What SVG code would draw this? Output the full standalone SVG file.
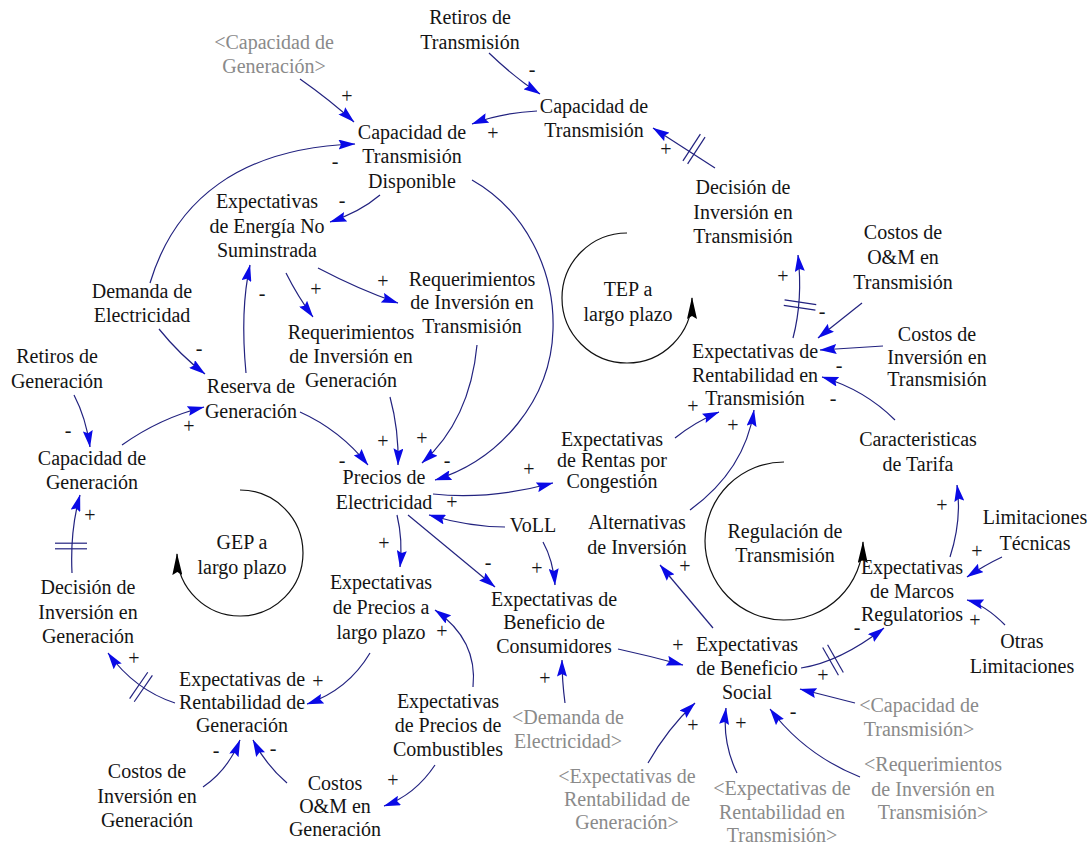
<svg xmlns="http://www.w3.org/2000/svg" width="1088" height="846" viewBox="0 0 1088 846">
<defs>
<style>
text{font-family:'Liberation Serif','Times New Roman',Times,'DejaVu Serif',serif;font-size:20px;fill:#141414;text-anchor:middle}
.g{fill:#8a8a8a}
.c{fill:none;stroke:#22227f;stroke-width:1.2;marker-end:url(#ab)}
.lp{fill:none;stroke:#111;stroke-width:1.2;marker-end:url(#lb)}
.dl line{stroke:#22227f;stroke-width:1.2}
</style>
<marker id="ab" viewBox="0 0 17 10" refX="16.5" refY="5" markerWidth="17" markerHeight="10" markerUnits="userSpaceOnUse" orient="auto">
<path d="M0,0 L17,5 L0,10 L2.5,5 z" fill="#0a0ae6"/>
</marker>
<marker id="lb" viewBox="0 0 22 10" refX="21" refY="5" markerWidth="22" markerHeight="10" markerUnits="userSpaceOnUse" orient="auto">
<path d="M0,0 L22,5 L0,10 L3,5 z" fill="#000"/>
</marker>
<g id="dm" class="dl"><line x1="-2.8" y1="-16" x2="-2.8" y2="16"/><line x1="2.8" y1="-16" x2="2.8" y2="16"/></g>
</defs>
<rect width="1088" height="846" fill="#fff"/>

<g id="connectors">
<path class="c" d="M300,79 Q330,100 354,122"/>
<path class="c" d="M150,283 C175,200 240,148 355,144"/>
<path class="c" d="M489,53 Q515,78 540,94"/>
<path class="c" d="M537,111 Q500,113 472,124"/>
<path class="c" d="M715,168 L653,128"/>
<path class="c" d="M380,195 Q360,212 330,222"/>
<path class="c" d="M472,180 C525,210 555,270 553,330 C551,400 500,460 435,480"/>
<path class="c" d="M318,268 Q360,290 398,303"/>
<path class="c" d="M286,273 Q298,297 313,317"/>
<path class="c" d="M246,373 Q240,310 250,265"/>
<path class="c" d="M159,329 Q180,355 205,374"/>
<path class="c" d="M74,395 Q86,418 90,447"/>
<path class="c" d="M122,445 Q160,418 204,407"/>
<path class="c" d="M300,412 Q340,430 368,465"/>
<path class="c" d="M390,397 Q399,430 398,465"/>
<path class="c" d="M477,345 Q470,420 422,463"/>
<path class="c" d="M433,494 Q490,500 553,483"/>
<path class="c" d="M505,527 Q470,527 429,515"/>
<path class="c" d="M543,542 Q553,560 555,585"/>
<path class="c" d="M397,515 Q403,540 400,567"/>
<path class="c" d="M408,515 Q450,550 495,587"/>
<path class="c" d="M675,438 Q695,422 719,412"/>
<path class="c" d="M690,510 Q745,470 754,410"/>
<path class="c" d="M793,338 Q803,300 798,255"/>
<path class="c" d="M862,303 L818,338"/>
<path class="c" d="M883,346 L820,350"/>
<path class="c" d="M895,420 Q865,390 822,377"/>
<path class="c" d="M713,628 L660,565"/>
<path class="c" d="M618,649 Q650,656 683,665"/>
<path class="c" d="M565,703 Q562,680 562,660"/>
<path class="c" d="M648,763 Q668,728 695,703"/>
<path class="c" d="M737,773 Q722,742 726,708"/>
<path class="c" d="M860,777 Q805,755 770,709"/>
<path class="c" d="M855,703 L800,689"/>
<path class="c" d="M801,668 Q840,662 884,628"/>
<path class="c" d="M1002,557 Q985,565 967,577"/>
<path class="c" d="M1005,625 Q985,605 967,600"/>
<path class="c" d="M950,557 Q962,520 957,485"/>
<path class="c" d="M370,653 Q348,690 307,704"/>
<path class="c" d="M175,703 Q135,690 108,653"/>
<path class="c" d="M72,573 Q70,530 80,495"/>
<path class="c" d="M203,787 Q228,770 240,740"/>
<path class="c" d="M287,783 Q266,765 253,740"/>
<path class="c" d="M435,765 Q415,795 384,806"/>
<path class="c" d="M473,687 Q478,640 435,610"/>
<use href="#dm" transform="translate(694,149) rotate(33)"/>
<use href="#dm" transform="translate(800,305) rotate(98.6)"/>
<use href="#dm" transform="translate(833,660) rotate(-29.5)"/>
<use href="#dm" transform="translate(141,687) rotate(34.6)"/>
<use href="#dm" transform="translate(71,546) rotate(90)"/>
</g>

<g id="loops">
<path class="lp" d="M627,233 A65,65 0 1 0 692,298"/>
<path class="lp" d="M240,490 A63,63 0 1 1 177,554"/>
<path class="lp" d="M784,462 A79,79 0 1 0 863,542"/>
</g>

<g id="signs">
<text x="347" y="103">+</text>
<text x="335" y="168">-</text>
<text x="493" y="140">+</text>
<text x="532" y="76">-</text>
<text x="666" y="156">+</text>
<text x="342" y="207">-</text>
<text x="383" y="288">+</text>
<text x="316" y="296">+</text>
<text x="262" y="300">-</text>
<text x="199" y="355">-</text>
<text x="68" y="437">-</text>
<text x="189" y="433">+</text>
<text x="342" y="467">-</text>
<text x="383" y="448">+</text>
<text x="422" y="445">+</text>
<text x="447" y="467">-</text>
<text x="529" y="476">+</text>
<text x="452" y="509">+</text>
<text x="384" y="550">+</text>
<text x="488" y="569">-</text>
<text x="537" y="575">+</text>
<text x="693" y="413">+</text>
<text x="733" y="432">+</text>
<text x="783" y="283">+</text>
<text x="822" y="318">-</text>
<text x="839" y="372">-</text>
<text x="833" y="405">-</text>
<text x="942" y="512">+</text>
<text x="977" y="558">+</text>
<text x="975" y="627">+</text>
<text x="857" y="634">-</text>
<text x="823" y="682">+</text>
<text x="793" y="718">-</text>
<text x="741" y="730">+</text>
<text x="693" y="732">+</text>
<text x="678" y="652">+</text>
<text x="685" y="573">+</text>
<text x="545" y="685">+</text>
<text x="318" y="688">+</text>
<text x="216" y="757">-</text>
<text x="273" y="755">-</text>
<text x="134" y="665">+</text>
<text x="90" y="522">+</text>
<text x="393" y="787">+</text>
<text x="442" y="638">+</text>
</g>

<g id="n_capgen_ref"><text class="g"><tspan x="274" y="49">&lt;Capacidad de</tspan><tspan x="274" y="73">Generación&gt;</tspan></text></g>
<g id="n_ret_trans"><text><tspan x="470" y="24">Retiros de</tspan><tspan x="470" y="49">Transmisión</tspan></text></g>
<g id="n_cap_trans"><text><tspan x="594" y="113">Capacidad de</tspan><tspan x="594" y="137">Transmisión</tspan></text></g>
<g id="n_ctd"><text><tspan x="412" y="139">Capacidad de</tspan><tspan x="412" y="163">Transmisión</tspan><tspan x="412" y="188">Disponible</tspan></text></g>
<g id="n_eens"><text><tspan x="267" y="208">Expectativas</tspan><tspan x="267" y="233">de Energía No</tspan><tspan x="267" y="257">Suminstrada</tspan></text></g>
<g id="n_dit"><text><tspan x="743" y="194">Decisión de</tspan><tspan x="743" y="219">Inversión en</tspan><tspan x="743" y="243">Transmisión</tspan></text></g>
<g id="n_rit"><text><tspan x="472" y="286">Requerimientos</tspan><tspan x="472" y="309">de Inversión en</tspan><tspan x="472" y="333">Transmisión</tspan></text></g>
<g id="n_rig"><text><tspan x="351" y="339">Requerimientos</tspan><tspan x="351" y="363">de Inversión en</tspan><tspan x="351" y="387">Generación</tspan></text></g>
<g id="n_dem"><text><tspan x="142" y="298">Demanda de</tspan><tspan x="142" y="322">Electricidad</tspan></text></g>
<g id="n_retg"><text><tspan x="57" y="363">Retiros de</tspan><tspan x="57" y="388">Generación</tspan></text></g>
<g id="n_res"><text><tspan x="251" y="393">Reserva de</tspan><tspan x="251" y="418">Generación</tspan></text></g>
<g id="n_capg"><text><tspan x="92" y="465">Capacidad de</tspan><tspan x="92" y="489">Generación</tspan></text></g>
<g id="n_prec"><text><tspan x="384" y="484">Precios de</tspan><tspan x="384" y="509">Electricidad</tspan></text></g>
<g id="n_erc"><text><tspan x="612" y="446">Expectativas</tspan><tspan x="612" y="467">de Rentas por</tspan><tspan x="612" y="488">Congestión</tspan></text></g>
<g id="n_voll"><text><tspan x="533" y="532">VoLL</tspan></text></g>
<g id="n_alt"><text><tspan x="637" y="529">Alternativas</tspan><tspan x="637" y="554">de Inversión</tspan></text></g>
<g id="n_epl"><text><tspan x="381" y="589">Expectativas</tspan><tspan x="381" y="614">de Precios a</tspan><tspan x="381" y="639">largo plazo</tspan></text></g>
<g id="n_ebc"><text><tspan x="554" y="606">Expectativas de</tspan><tspan x="554" y="629">Beneficio de</tspan><tspan x="554" y="653">Consumidores</tspan></text></g>
<g id="n_erg"><text><tspan x="242" y="686">Expectativas de</tspan><tspan x="242" y="709">Rentabilidad de</tspan><tspan x="242" y="732">Generación</tspan></text></g>
<g id="n_dig"><text><tspan x="88" y="594">Decisión de</tspan><tspan x="88" y="619">Inversión en</tspan><tspan x="88" y="643">Generación</tspan></text></g>
<g id="n_cig"><text><tspan x="147" y="778">Costos de</tspan><tspan x="147" y="803">Inversión en</tspan><tspan x="147" y="827">Generación</tspan></text></g>
<g id="n_cog"><text><tspan x="335" y="790">Costos</tspan><tspan x="335" y="813">O&amp;M en</tspan><tspan x="335" y="836">Generación</tspan></text></g>
<g id="n_epc"><text><tspan x="448" y="708">Expectativas</tspan><tspan x="448" y="732">de Precios de</tspan><tspan x="448" y="756">Combustibles</tspan></text></g>
<g id="n_dem_ref"><text class="g"><tspan x="568" y="724">&lt;Demanda de</tspan><tspan x="568" y="748">Electricidad&gt;</tspan></text></g>
<g id="n_erg_ref"><text class="g"><tspan x="627" y="783">&lt;Expectativas de</tspan><tspan x="627" y="806">Rentabilidad de</tspan><tspan x="627" y="829">Generación&gt;</tspan></text></g>
<g id="n_ebs"><text><tspan x="747" y="651">Expectativas</tspan><tspan x="747" y="675">de Beneficio</tspan><tspan x="747" y="699">Social</tspan></text></g>
<g id="n_ert_ref"><text class="g"><tspan x="782" y="795">&lt;Expectativas de</tspan><tspan x="782" y="819">Rentabilidad en</tspan><tspan x="782" y="842">Transmisión&gt;</tspan></text></g>
<g id="n_rit_ref"><text class="g"><tspan x="933" y="771">&lt;Requerimientos</tspan><tspan x="933" y="796">de Inversión en</tspan><tspan x="933" y="819">Transmisión&gt;</tspan></text></g>
<g id="n_ct_ref"><text class="g"><tspan x="919" y="712">&lt;Capacidad de</tspan><tspan x="919" y="736">Transmisión&gt;</tspan></text></g>
<g id="n_emr"><text><tspan x="912" y="574">Expectativas</tspan><tspan x="912" y="598">de Marcos</tspan><tspan x="912" y="621">Regulatorios</tspan></text></g>
<g id="n_otras"><text><tspan x="1022" y="648">Otras</tspan><tspan x="1022" y="673">Limitaciones</tspan></text></g>
<g id="n_limt"><text><tspan x="1035" y="524">Limitaciones</tspan><tspan x="1035" y="550">Técnicas</tspan></text></g>
<g id="n_tar"><text><tspan x="918" y="446">Caracteristicas</tspan><tspan x="918" y="471">de Tarifa</tspan></text></g>
<g id="n_cit"><text><tspan x="937" y="341">Costos de</tspan><tspan x="937" y="364">Inversión en</tspan><tspan x="937" y="386">Transmisión</tspan></text></g>
<g id="n_cot"><text><tspan x="903" y="239">Costos de</tspan><tspan x="903" y="264">O&amp;M en</tspan><tspan x="903" y="289">Transmisión</tspan></text></g>
<g id="n_ert"><text><tspan x="755" y="358">Expectativas de</tspan><tspan x="755" y="382">Rentabilidad en</tspan><tspan x="755" y="405">Transmisión</tspan></text></g>
<g id="loop_tep"><text><tspan x="628" y="296">TEP a</tspan><tspan x="628" y="321">largo plazo</tspan></text></g>
<g id="loop_gep"><text><tspan x="242" y="549">GEP a</tspan><tspan x="242" y="574">largo plazo</tspan></text></g>
<g id="loop_reg"><text><tspan x="785" y="538">Regulación de</tspan><tspan x="785" y="562">Transmisión</tspan></text></g>
</svg>
